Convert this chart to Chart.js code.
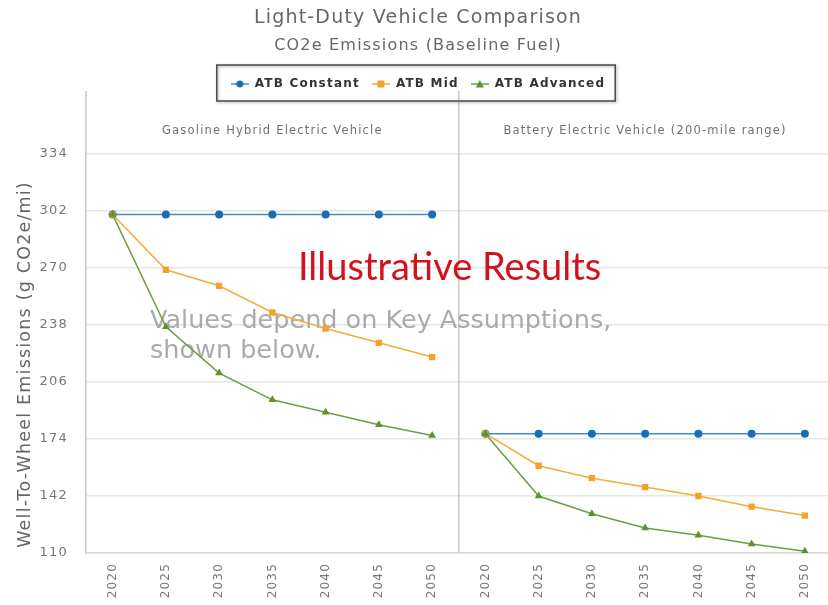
<!DOCTYPE html>
<html>
<head>
<meta charset="utf-8">
<script src="https://cdn.jsdelivr.net/npm/chart.js@4/dist/chart.umd.min.js"></script>
<style>
  html, body { margin: 0; padding: 0; background: #ffffff; overflow: hidden; }
  #wrap { width: 836px; height: 605px; position: relative; }
</style>
</head>
<body>
<div id="wrap"><canvas id="c"></canvas></div>
<script>
// ---- data ----
const years = ['2020', '2025', '2030', '2035', '2040', '2045', '2050'];
const panelTitles = ['Gasoline Hybrid Electric Vehicle', 'Battery Electric Vehicle (200-mile range)'];
const seriesNames = ['ATB Constant', 'ATB Mid', 'ATB Advanced'];
const yAxisTitle = 'Well-To-Wheel Emissions (g CO2e/mi)';
const gasConstant = [300, 300, 300, 300, 300, 300, 300];
const gasMid      = [300, 269, 260, 245, 236, 228, 220];
const gasAdvanced = [300, 237, 211, 196, 189, 182, 176];
const bevConstant = [177, 177, 177, 177, 177, 177, 177];
const bevMid      = [177, 159, 152, 147, 142, 136, 131];
const bevAdvanced = [177, 142, 132, 124, 120, 115, 111];
const yTicks = [110, 142, 174, 206, 238, 270, 302, 334];

// ---- styling ----
const lineColors   = ['#3b8fd0', '#f3ad3a', '#6f9d47'];
const markerColors = ['#1b6db3', '#f2a22a', '#5b9428'];
const pointStyles  = ['circle', 'rect', 'triangle'];
const FONT = 'DejaVu Sans';
const SPACING = '1.2px';

const labels = years.concat(years);
const seriesData = [
  gasConstant.concat(bevConstant),
  gasMid.concat(bevMid),
  gasAdvanced.concat(bevAdvanced)
];

function legendIcon(i) {
  const cv = document.createElement('canvas');
  cv.width = 18; cv.height = 10;
  const g = cv.getContext('2d');
  g.strokeStyle = lineColors[i]; g.lineWidth = 1.5;
  g.beginPath(); g.moveTo(0, 5); g.lineTo(18, 5); g.stroke();
  g.fillStyle = markerColors[i];
  g.beginPath();
  if (i === 0) { g.arc(9, 5, 3.5, 0, Math.PI * 2); }
  else if (i === 1) { g.rect(5.5, 1.5, 7, 7); }
  else { g.moveTo(9, 1); g.lineTo(13, 8.5); g.lineTo(5, 8.5); g.closePath(); }
  g.fill();
  return cv;
}

const datasets = seriesNames.map((name, i) => ({
  label: name,
  data: seriesData[i],
  borderColor: lineColors[i],
  backgroundColor: markerColors[i],
  pointBackgroundColor: markerColors[i],
  pointBorderColor: markerColors[i],
  pointStyle: pointStyles[i],
  pointRadius: i === 0 ? 4 : 4.5,
  pointBorderWidth: 0,
  borderWidth: 1.5,
  tension: 0,
  order: 2 - i,
  segment: {
    borderColor: ctx => ctx.p0DataIndex === years.length - 1 ? 'rgba(0,0,0,0)' : undefined
  }
}));

const canvasEl = document.getElementById('c');

const decorPlugin = {
  id: 'decor',
  beforeInit(chart) {
    chart.ctx.letterSpacing = SPACING;
    const lg = chart.legend;
    const f = lg.fit;
    lg.fit = function () { f.call(this); this.height += 54; };
  },
  beforeUpdate(chart) { chart.ctx.letterSpacing = SPACING; },
  beforeDraw(chart) { chart.ctx.letterSpacing = SPACING; },
  beforeDatasetsDraw(chart) {
    const ctx = chart.ctx, a = chart.chartArea, x = chart.scales.x;
    const divX = (x.getPixelForValue(years.length - 1) + x.getPixelForValue(years.length)) / 2;
    const topY = a.top - 63;
    ctx.save();
    // vertical frame lines
    ctx.strokeStyle = '#c8c8c8'; ctx.lineWidth = 1.5;
    ctx.beginPath();
    ctx.moveTo(a.left, topY); ctx.lineTo(a.left, a.top);
    ctx.moveTo(divX, topY); ctx.lineTo(divX, a.bottom);
    ctx.stroke();
    // panel headers
    ctx.fillStyle = '#707070';
    ctx.font = '11.5px "' + FONT + '"';
    ctx.textAlign = 'center'; ctx.textBaseline = 'middle';
    ctx.fillText(panelTitles[0], (a.left + divX) / 2, a.top - 23);
    ctx.fillText(panelTitles[1], (divX + a.right) / 2, a.top - 23);
    // y axis title
    ctx.save();
    ctx.translate(25, (a.top + a.bottom) / 2 + 11);
    ctx.rotate(-Math.PI / 2);
    ctx.fillStyle = '#666666';
    ctx.font = '17.5px "' + FONT + '"';
    ctx.fillText(yAxisTitle, 0, 0);
    ctx.restore();
    // watermark texts
    ctx.letterSpacing = '0px';
    ctx.textAlign = 'left'; ctx.textBaseline = 'alphabetic';
    ctx.fillStyle = '#d3111c';
    ctx.font = '38px Lato';
    ctx.fillText('Illustrative Results', 298, 280);
    ctx.fillStyle = 'rgba(150,150,150,0.8)';
    ctx.font = '25.5px "' + FONT + '"';
    ctx.fillText('Values depend on Key Assumptions,', 150, 328);
    ctx.fillText('shown below.', 150, 358);
    ctx.restore();
  },
  afterDraw(chart) {
    const lg = chart.legend;
    if (!lg || !lg.legendHitBoxes || !lg.legendHitBoxes.length) return;
    const hb = lg.legendHitBoxes;
    const l = Math.min(...hb.map(h => h.left)) - 14;
    const r = Math.max(...hb.map(h => h.left + h.width)) + 10;
    const t = hb[0].top - 13;
    const b = hb[0].top + hb[0].height + 11;
    const ctx = chart.ctx;
    ctx.save();
    ctx.shadowColor = 'rgba(0,0,0,0.35)';
    ctx.shadowBlur = 3; ctx.shadowOffsetX = 1; ctx.shadowOffsetY = 1;
    ctx.strokeStyle = '#4a4a4a'; ctx.lineWidth = 1.5;
    ctx.strokeRect(l, t, r - l, b - t);
    ctx.restore();
  }
};

new Chart(canvasEl, {
  type: 'line',
  data: { labels: labels, datasets: datasets },
  options: {
    responsive: true,
    maintainAspectRatio: false,
    animation: false,
    layout: { padding: { left: 0, right: 0, top: 0, bottom: 0 } },
    plugins: {
      title: {
        display: true,
        text: 'Light-Duty Vehicle Comparison',
        color: '#666666',
        font: { family: FONT, size: 19, weight: 'normal' },
        padding: { top: 7, bottom: 3 }
      },
      subtitle: {
        display: true,
        text: 'CO2e Emissions (Baseline Fuel)',
        color: '#666666',
        font: { family: FONT, size: 16, weight: 'normal' },
        padding: { top: 3, bottom: 11 }
      },
      legend: {
        display: true,
        position: 'top',
        labels: {
          usePointStyle: true,
          pointStyleWidth: 18,
          padding: 12,
          color: '#333333',
          font: { family: FONT, size: 12, weight: 'bold' },
          sort: (a, b) => a.datasetIndex - b.datasetIndex,
          generateLabels(chart) {
            return seriesNames.map((name, i) => ({
              text: name,
              datasetIndex: i,
              pointStyle: legendIcon(i),
              fillStyle: markerColors[i],
              strokeStyle: markerColors[i],
              lineWidth: 0,
              hidden: false,
              fontColor: '#333333'
            }));
          }
        }
      },
      tooltip: { enabled: false }
    },
    scales: {
      x: {
        type: 'category',
        offset: true,
        afterFit(scale) { scale.paddingRight = 0; scale.paddingLeft = 0; scale.height = 52; },
        grid: {
          offset: true,
          drawTicks: false,
          color: 'rgba(0,0,0,0)'
        },
        border: { display: true, color: '#d8d8d8', width: 1.5 },
        ticks: {
          autoSkip: false,
          minRotation: 90,
          maxRotation: 90,
          padding: 10,
          color: '#777777',
          font: { family: FONT, size: 12 }
        }
      },
      y: {
        min: yTicks[0],
        max: yTicks[yTicks.length - 1],
        afterBuildTicks(scale) { scale.ticks = yTicks.map(v => ({ value: v })); },
        afterFit(scale) { scale.width = 86; },
        grid: { color: '#e6e6e6', lineWidth: 1.5, drawTicks: false },
        border: { display: true, color: '#c8c8c8', width: 1.5 },
        ticks: {
          padding: 18,
          color: '#777777',
          font: { family: FONT, size: 13 }
        }
      }
    }
  },
  plugins: [decorPlugin]
});
</script>
</body>
</html>
